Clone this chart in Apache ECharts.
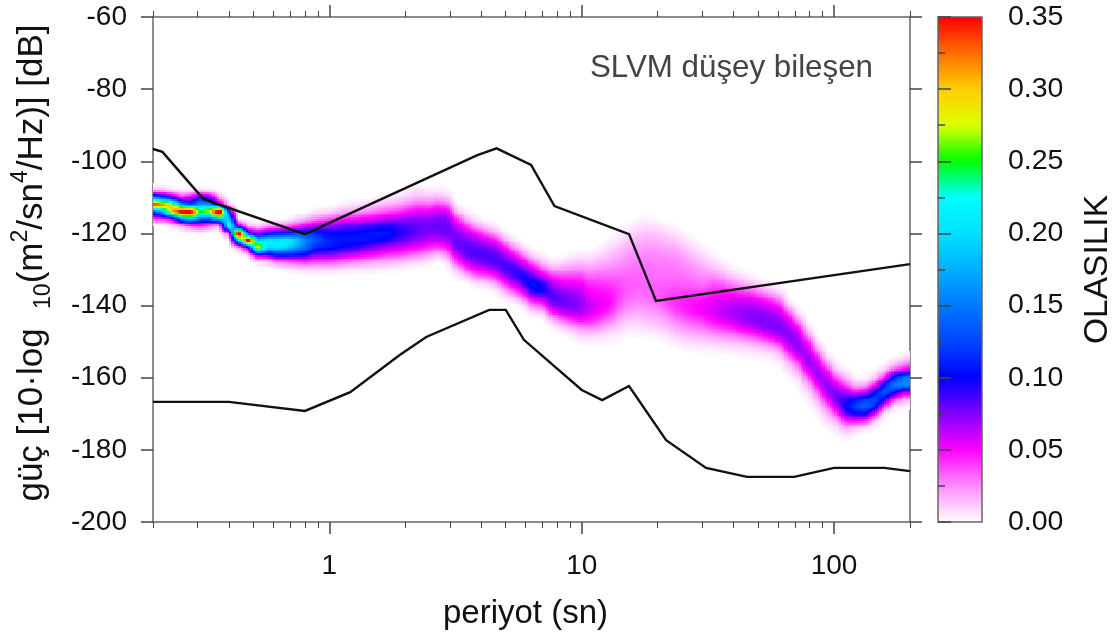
<!DOCTYPE html>
<html><head><meta charset="utf-8">
<style>html,body{margin:0;padding:0;background:#fff}#c{width:1120px;height:639px}</style>
<script src="https://cdn.jsdelivr.net/npm/echarts@6/dist/echarts.min.js"></script>
</head><body><div id="c"></div>
<script>
// Period bin edges of the probability table (s)
const periodBins = [0.2,.2181,.2378,.2594,.2828,.3084,.3364,.3668,
.4,.4362,.4757,.5187,.5657,.6169,.6727,.7336,
.8,.8724,.9514,1.0375,1.1314,1.2338,1.3454,1.4672,
1.6,1.7448,1.9027,2.0749,2.2627,2.4675,2.6909,2.9344,
3.2,3.4897,3.8055,4.1499,4.5255,4.9351,5.3817,5.8688,
6.4,6.9793,7.6109,8.2998,9.051,9.8701,10.763,11.738,
12.8,13.959,15.222,16.6,18.102,19.74,21.527,23.475,
25.6,27.917,30.444,33.199,36.204,39.48,43.054,46.95,
51.2,55.834,60.887,66.398,72.408,78.961,86.108,93.9,
102.4,111.67,121.77,132.8,144.82,157.92,172.22,187.8,204.8];
const dbStep = 2;
// For each period bin: [dB of first listed cell, probabilities x1000 going down in 2 dB steps]
const probabilityBands = [
[-108,[12,150,360,120,35]],
[-108,[12,120,340,170,40]],
[-108,[5,90,290,310,55,5]],
[-108,[3,40,170,380,150,15]],
[-108,[3,60,130,380,180,30]],
[-108,[5,100,170,255,140,40]],
[-108,[3,80,165,290,130,25]],
[-110,[15,80,430,180,10]],
[-112,[5,90,195,250,35]],
[-116,[4,70,410,170,12]],
[-118,[15,110,420,70,5]],
[-118,[8,70,200,300,70,5]],
[-118,[20,95,215,200,70,10]],
[-118,[25,105,215,205,100,25]],
[-118,[30,110,220,195,100,30,3]],
[-116,[8,40,120,200,170,95,35,5]],
[-116,[15,55,120,160,145,92,40,8]],
[-114,[5,25,65,115,135,115,72,35,8]],
[-114,[8,32,70,105,118,108,72,36,8]],
[-114,[10,38,72,100,110,104,70,34,8]],
[-112,[4,18,46,80,100,108,96,62,30,6]],
[-112,[6,20,48,82,102,108,92,58,26,5]],
[-112,[8,24,52,85,104,108,85,52,24,5]],
[-112,[10,28,56,90,108,104,78,48,20,5]],
[-110,[5,15,33,62,94,108,100,70,42,18,4]],
[-110,[5,18,38,66,96,106,92,64,38,16,3]],
[-110,[8,22,42,70,88,95,82,60,36,14,2]],
[-108,[4,12,28,50,72,85,88,75,55,30,10]],
[-108,[8,16,34,55,72,80,80,68,50,26,8]],
[-108,[4,14,32,55,72,78,75,62,42,20,6]],
[-108,[5,16,38,60,76,80,76,60,38,12]],
[-108,[3,12,32,58,75,80,80,66,48,24,6]],
[-112,[3,15,42,62,74,82,78,60,38,14,3]],
[-114,[4,18,42,65,76,85,80,60,36,12]],
[-116,[5,22,50,70,82,86,72,52,26,6]],
[-118,[12,35,60,78,86,80,58,32,8]],
[-118,[5,22,50,70,84,86,68,42,16,3]],
[-120,[5,22,50,70,86,86,65,40,16,4]],
[-122,[6,25,52,74,92,86,60,35,10]],
[-124,[8,28,55,80,100,86,56,28,6]],
[-126,[8,30,60,85,110,95,58,28,8]],
[-126,[3,15,36,66,95,100,66,35,10]],
[-128,[6,22,45,68,82,86,70,42,15,3]],
[-128,[8,22,40,56,72,80,78,58,30,10]],
[-126,[3,12,25,40,55,66,76,78,65,42,18,5]],
[-126,[5,14,26,40,52,62,70,72,66,50,26,10,3]],
[-126,[5,12,22,33,43,50,56,60,58,45,28,12,4]],
[-124,[3,8,16,25,34,42,48,52,54,50,38,24,10,3]],
[-122,[3,8,13,19,26,33,40,46,50,50,42,30,16,6,2]],
[-120,[3,6,12,17,23,28,33,37,40,40,35,28,20,11,5,2]],
[-118,[3,8,12,17,22,26,30,33,34,34,32,27,20,12,6,2]],
[-116,[2,6,11,16,21,25,28,31,32,33,32,29,24,18,12,6,2]],
[-116,[3,8,13,18,23,26,28,31,31,33,32,30,26,20,14,8,3]],
[-116,[2,7,12,17,22,26,28,30,31,33,34,33,28,22,16,10,4,1]],
[-118,[4,10,15,20,25,28,30,31,34,36,38,35,28,20,13,6,2]],
[-118,[2,6,12,18,23,27,29,31,34,38,42,42,36,28,20,12,5,1]],
[-120,[3,7,13,19,24,27,30,34,38,44,46,42,33,24,15,7,2]],
[-122,[3,7,13,19,24,28,32,38,44,49,48,38,28,18,9,3]],
[-124,[3,7,13,20,26,31,38,46,52,52,42,31,20,10,4,1]],
[-126,[3,8,16,26,36,44,52,56,56,50,38,24,12,4,1]],
[-128,[4,10,20,33,45,54,60,63,56,42,27,13,5,1]],
[-130,[4,13,27,42,55,64,68,62,48,30,15,6,1]],
[-130,[2,8,20,38,54,65,70,69,55,36,18,7,2]],
[-132,[4,14,32,52,66,72,74,62,42,22,9,3]],
[-134,[8,24,45,62,72,76,70,50,28,11,3]],
[-134,[4,15,36,55,68,74,75,60,36,16,5,1]],
[-136,[7,24,45,62,72,76,70,48,25,9,3]],
[-140,[12,34,55,68,74,72,56,34,16,7,2]],
[-142,[6,22,46,62,72,74,60,38,20,9,3,1]],
[-146,[6,20,44,60,70,72,58,36,18,8,3,1]],
[-150,[5,18,42,60,70,70,52,32,17,8,3,1]],
[-154,[6,22,46,64,74,70,50,30,16,7,2]],
[-156,[3,12,34,58,76,82,64,40,18,7,2]],
[-158,[4,15,36,64,92,105,84,44,18,6]],
[-160,[3,16,48,105,125,100,48,12,2]],
[-160,[2,18,55,120,140,100,40,8]],
[-158,[2,12,45,100,130,115,55,12,1]],
[-156,[1,10,42,105,135,100,40,6]],
[-156,[10,40,110,155,110,40,6]],
[-154,[3,22,55,145,160,70,20,3]],
[-154,[8,30,70,165,160,65,15,2]]
];
const dbTop = -100, dbBottom = -184;
// Probability colour scale, evenly spaced from 0 to 0.35
const probabilityColors = ['#ffffff','#ff8cff','#ff00ff','#8000ff','#0000ff','#0046ff','#0078ff','#00afff','#00e1ff','#00ffff','#00ff00','#dcff00','#ffcd00','#ff6e00','#ff0000'];
// Noise model curves
const highPeriods = [0.2,0.218,0.317,0.8,3.86,4.6,6.3,7.8,15.4,19.7,200];
const highPower = [-96.6,-97.4,-110.5,-120.2,-98.3,-96.4,-101,-112.4,-120.2,-138.7,-128.5];
const lowPeriods = [0.2,0.4,0.8,1.21,1.9,2.42,4.3,5,5.9,10,12.05,15.4,21.6,31.1,45.2,69.5,100,158,200];
const lowPower = [-166.7,-166.7,-169.2,-164,-153.7,-148.7,-141.2,-141.2,-149.5,-163.4,-166.2,-162.3,-177.3,-185,-187.5,-187.5,-185,-185,-185.9];
// Axis ticks
const decadeTicks = [1,10,100];
const minorTicks = [0.2,0.3,0.4,0.5,0.6,0.7,0.8,0.9,2,3,4,5,6,7,8,9,20,30,40,50,60,70,80,90,200];

const rowCount = (dbTop - dbBottom) / dbStep + 1;
const cellValue = (c, r) => {
  const b = probabilityBands[c];
  if (!b) return 0;
  const k = Math.round((b[0] - (dbTop - r * dbStep)) / dbStep);
  const v = b[1][k];
  return v === undefined ? 0 : v / 1000;
};
const heatData = [];
for (let c = 0; c < probabilityBands.length; c++)
  for (let r = 0; r < rowCount; r++)
    heatData.push([periodBins[c], dbTop - r * dbStep, cellValue(c, r), c, r]);

const rgb = probabilityColors.map(h => [1,3,5].map(i => parseInt(h.substr(i,2),16)));
const colorOf = v => {
  const t = Math.max(0, Math.min(1, v / 0.35)) * (rgb.length - 1);
  const i = Math.min(rgb.length - 2, Math.floor(t)), f = t - i;
  return 'rgb(' + rgb[i].map((a,k) => Math.round(a + (rgb[i+1][k]-a)*f)).join(',') + ')';
};
const SUB = 4;
function renderCell(params, api) {
  const c = api.value(3), r = api.value(4);
  if (c + 1 >= periodBins.length) return null;
  const v00 = api.value(2), v10 = cellValue(c+1,r), v01 = cellValue(c,r+1), v11 = cellValue(c+1,r+1);
  if (v00 + v10 + v01 + v11 === 0) return null;
  const a = api.coord([periodBins[c], dbTop - r*dbStep]);
  const b = api.coord([periodBins[c+1], dbTop - (r+1)*dbStep]);
  const maxX = params.coordSys.x + params.coordSys.width;
  const children = [];
  for (let i = 0; i < SUB; i++) for (let j = 0; j < SUB; j++) {
    const u = (i+.5)/SUB, w = (j+.5)/SUB;
    const val = (v00*(1-u)+v10*u)*(1-w) + (v01*(1-u)+v11*u)*w;
    if (val < 0.0012) continue;
    const x0 = Math.round(a[0]+(b[0]-a[0])*i/SUB), x1 = Math.min(maxX, Math.round(a[0]+(b[0]-a[0])*(i+1)/SUB));
    const y0 = Math.round(a[1]+(b[1]-a[1])*j/SUB), y1 = Math.round(a[1]+(b[1]-a[1])*(j+1)/SUB);
    if (x1<=x0 || y1<=y0) continue;
    children.push({type:'rect',shape:{x:x0,y:y0,width:x1-x0,height:y1-y0},style:{fill:colorOf(val)},silent:true});
  }
  return {type:'group',children};
}

const AXC = '#666', TXT = '#111', FF = '"Liberation Sans",Arial,sans-serif';
const xBase = {type:'log',logBase:10,min:0.2,max:200,gridIndex:0,splitLine:{show:false},minorTick:{show:false},minorSplitLine:{show:false}};
const chart = echarts.init(document.getElementById('c'), null, {renderer:'canvas'});
chart.setOption({
  animation:false,
  backgroundColor:'#fff',
  textStyle:{fontFamily:FF},
  grid:[
    {left:153,top:17,width:757,height:505,show:false,z:5,outerBoundsMode:'none'},
    {left:938,top:17,width:44,height:505,show:true,backgroundColor:'transparent',borderColor:AXC,borderWidth:1.5,z:10,outerBoundsMode:'none'}
  ],
  xAxis:[
    Object.assign({},xBase,{position:'bottom',name:'periyot (sn)',nameLocation:'middle',nameGap:75,
      nameTextStyle:{fontSize:33,color:TXT,padding:[0,12,0,0],fontFamily:FF},
      axisLine:{show:true,lineStyle:{color:AXC,width:1.5}},
      axisTick:{show:true,length:12,inside:false,customValues:decadeTicks,lineStyle:{color:'#444',width:1.5}},
      axisLabel:{show:true,customValues:decadeTicks,fontSize:28,color:TXT,margin:30,fontFamily:FF,formatter:v=>String(Math.round(v))}}),
    Object.assign({},xBase,{position:'bottom',axisLine:{show:false},
      axisTick:{show:true,length:6,customValues:minorTicks,lineStyle:{color:'#444',width:1}},axisLabel:{show:false}}),
    Object.assign({},xBase,{position:'top',
      axisLine:{show:true,lineStyle:{color:AXC,width:1.5}},
      axisTick:{show:true,length:12,customValues:decadeTicks,lineStyle:{color:'#444',width:1.5}},axisLabel:{show:false}}),
    Object.assign({},xBase,{position:'top',axisLine:{show:false},
      axisTick:{show:true,length:6,customValues:minorTicks,lineStyle:{color:'#444',width:1}},axisLabel:{show:false}}),
    {type:'value',gridIndex:1,min:0,max:1,show:false}
  ],
  yAxis:[
    {type:'value',gridIndex:0,position:'left',min:-200,max:-60,interval:20,splitLine:{show:false},
      name:'{a|güç [10·log  }{s|10}{a|(m}{p|2}{a|/sn}{p|4}{a|/Hz)] [dB]}',nameLocation:'middle',nameGap:98,nameRotate:90,
      nameTextStyle:{padding:[0,0,0,13],rich:{a:{fontSize:35,color:TXT,fontFamily:FF,lineHeight:46},
        s:{fontSize:23,color:TXT,fontFamily:FF,verticalAlign:'bottom',lineHeight:46},
        p:{fontSize:23,color:TXT,fontFamily:FF,verticalAlign:'top',lineHeight:46}}},
      axisLine:{show:true,onZero:false,lineStyle:{color:AXC,width:1.5}},
      axisTick:{show:true,length:12,lineStyle:{color:'#444',width:1.5}},
      axisLabel:{fontSize:28,color:TXT,margin:26,fontFamily:FF}},
    {type:'value',gridIndex:0,position:'right',min:-200,max:-60,interval:20,splitLine:{show:false},
      axisLine:{show:true,onZero:false,lineStyle:{color:AXC,width:1.5}},
      axisTick:{show:true,length:12,lineStyle:{color:'#444',width:1.5}},axisLabel:{show:false}},
    {type:'value',gridIndex:1,position:'right',min:0,max:0.35,interval:0.05,splitLine:{show:false},
      name:'OLASILIK',nameLocation:'middle',nameGap:99,nameRotate:90,nameTextStyle:{fontSize:33.5,color:TXT,fontFamily:FF},
      axisLine:{show:false},
      axisTick:{show:true,length:13,lineStyle:{color:'#444',width:1.5}},
      minorTick:{show:true,splitNumber:2,length:7,lineStyle:{color:'#444',width:1.5}},
      axisLabel:{fontSize:28.5,color:TXT,margin:26,fontFamily:FF,formatter:v=>v.toFixed(2)},z:10}
  ],
  visualMap:{type:'continuous',seriesIndex:0,dimension:2,min:0,max:0.35,left:938,top:17,padding:0,
    itemWidth:44,itemHeight:505,calculable:false,hoverLink:false,text:null,showLabel:false,
    inRange:{color:probabilityColors},z:4},
  graphic:[{type:'text',left:590,top:53,style:{text:'SLVM düşey bileşen',fontSize:31.3,fill:'#444',fontFamily:FF}}],
  series:[
    {type:'custom',name:'olasılık',xAxisIndex:0,yAxisIndex:0,clip:true,silent:true,animation:false,
      renderItem:renderCell,encode:{x:0,y:1},data:heatData,z:1},
    {type:'line',name:'üst',xAxisIndex:0,yAxisIndex:0,showSymbol:false,symbol:'none',silent:true,z:3,
      lineStyle:{color:'#111',width:2.4,join:'miter'},data:highPeriods.map((p,i)=>[p,highPower[i]])},
    {type:'line',name:'alt',xAxisIndex:0,yAxisIndex:0,showSymbol:false,symbol:'none',silent:true,z:3,
      lineStyle:{color:'#111',width:2.4,join:'miter'},data:lowPeriods.map((p,i)=>[p,lowPower[i]])}
  ]
});
</script></body></html>
